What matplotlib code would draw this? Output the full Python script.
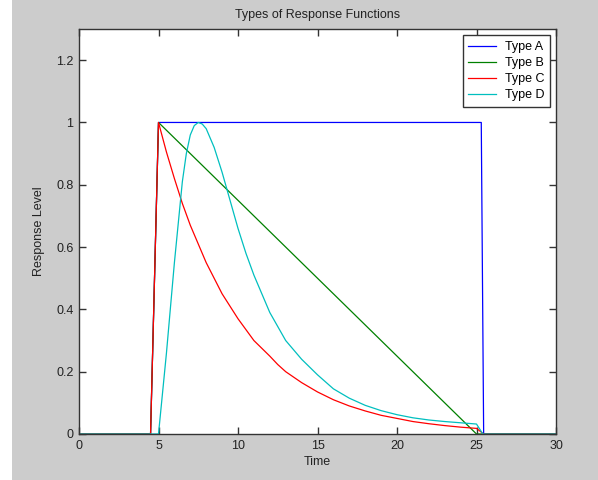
import numpy as np
import matplotlib
matplotlib.use('Agg')
import matplotlib.pyplot as plt
from matplotlib.ticker import FormatStrFormatter
from matplotlib.patches import Rectangle

plt.rcParams['font.family'] = ['Liberation Sans', 'DejaVu Sans']

# ----------------------
# data
# ----------------------
tA = [0, 4.5, 5, 25.3, 25.45, 30]
yA = [0, 0, 1, 1, 0, 0]

tB = [0, 4.5, 5, 25, 30]
yB = [0, 0, 1, 0, 0]

tC = [0, 4.5, 5, 5.5, 6, 6.5, 7, 7.5, 8, 8.5, 9, 9.5, 10, 10.5, 11, 11.5, 12,
      12.5, 13, 14, 15, 16, 17, 18, 19, 20, 21, 22, 23, 24, 25, 25.45, 30]
yC = [0, 0, 1, 0.905, 0.82, 0.74, 0.67, 0.61, 0.55, 0.50, 0.45, 0.41, 0.37,
      0.335, 0.30, 0.275, 0.25, 0.223, 0.20, 0.165, 0.135, 0.11, 0.09, 0.074,
      0.06, 0.05, 0.04, 0.033, 0.027, 0.022, 0.018, 0, 0]

tD = [0, 5, 5.5, 6, 6.5, 6.75, 7, 7.25, 7.5, 7.75, 8, 8.5, 9, 9.5, 10, 10.5,
      11, 11.5, 12, 12.5, 13, 13.5, 14, 15, 16, 17, 18, 19, 20, 21, 22, 23,
      24, 25, 25.4, 30]
yD = [0, 0, 0.26, 0.55, 0.81, 0.9, 0.96, 0.99, 1.0, 0.995, 0.98, 0.92, 0.84,
      0.75, 0.66, 0.58, 0.51, 0.45, 0.39, 0.345, 0.30, 0.27, 0.24, 0.19,
      0.145, 0.115, 0.092, 0.075, 0.062, 0.052, 0.045, 0.04, 0.036, 0.032, 0, 0]

labels = ['Type A', 'Type B', 'Type C', 'Type D']
colors = ['#0000ff', '#008000', '#ff0000', '#00bfbf']

fig = plt.figure(figsize=(5.98, 4.8), dpi=100, facecolor='#cccccc')
fig.patches.append(Rectangle((0, 0), 12 / 598, 1, transform=fig.transFigure,
                             facecolor='white', edgecolor='none', zorder=0))

ax = fig.add_axes([79 / 598, 1 - 434 / 480, 477 / 598, 405 / 480])
ax.set_facecolor('white')

for (t, y), lab, c in zip([(tA, yA), (tB, yB), (tC, yC), (tD, yD)], labels, colors):
    ax.plot(t, y, color=c, linewidth=0.9, label=lab)

ax.set_xlim(0, 30)
ax.set_ylim(0, 1.3)
ax.set_xticks(np.arange(0, 31, 5))
ax.set_yticks([0, 0.2, 0.4, 0.6, 0.8, 1.0, 1.2])
ax.yaxis.set_major_formatter(FormatStrFormatter('%g'))
ax.tick_params(direction='in', top=True, right=True, length=5, width=1,
               color='#333333', labelsize=9, labelcolor='#222222', pad=4)
for s in ax.spines.values():
    s.set_color('#333333')
    s.set_linewidth(1.0)

ax.set_title('Types of Response Functions', fontsize=9, color='#222222', pad=8)
ax.set_xlabel('Time', fontsize=9, color='#222222', labelpad=3)
ax.set_ylabel('Response Level', fontsize=9, color='#222222', labelpad=8)

leg = ax.legend(loc='upper right', fontsize=9, fancybox=False, framealpha=1,
                edgecolor='#333333', borderaxespad=0.5, handlelength=2.2,
                labelspacing=0.33, borderpad=0.45, handletextpad=0.7)
leg.get_frame().set_linewidth(1.0)

fig.savefig('out.png', dpi=100, facecolor=fig.get_facecolor())
